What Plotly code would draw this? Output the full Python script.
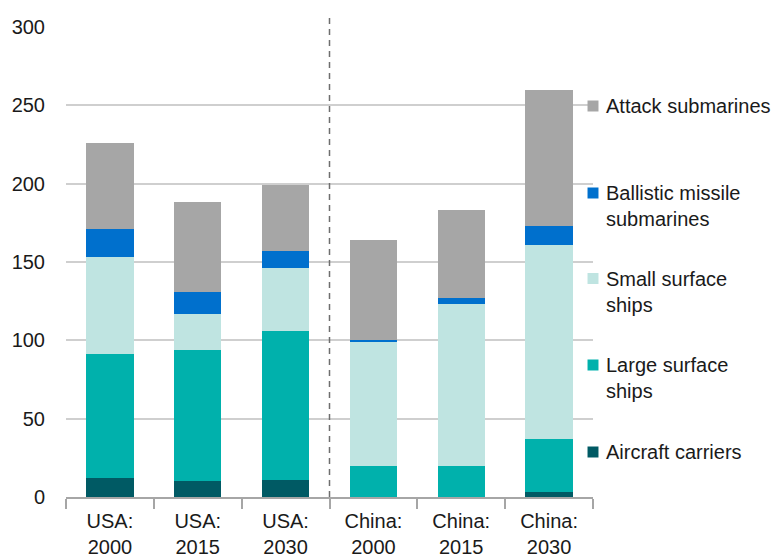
import plotly.graph_objects as go

# ------------------------------------------------------------------
# Data
# ------------------------------------------------------------------
CATEGORIES = ["USA:<br>2000", "USA:<br>2015", "USA:<br>2030",
              "China:<br>2000", "China:<br>2015", "China:<br>2030"]

AIRCRAFT_CARRIERS = [12, 10, 11, 0, 0, 3]
LARGE_SURFACE = [79, 84, 95, 20, 20, 34]
SMALL_SURFACE = [62, 23, 40, 79, 103, 124]
BALLISTIC_SUBS = [18, 14, 11, 1, 4, 12]
ATTACK_SUBS = [55, 57, 42, 64, 56, 87]

Y_TICKS = [0, 50, 100, 150, 200, 250, 300]

# ------------------------------------------------------------------
# Styling
# ------------------------------------------------------------------
FONT = "Liberation Sans, Arial, sans-serif"
TEXT_COLOR = "#1a1a1a"
GRID_COLOR = "#cfcfcf"

SERIES = [
    ("Aircraft carriers", AIRCRAFT_CARRIERS, "#005a64"),
    ("Large surface<br>ships", LARGE_SURFACE, "#00b1ac"),
    ("Small surface<br>ships", SMALL_SURFACE, "#bfe4e1"),
    ("Ballistic missile<br>submarines", BALLISTIC_SUBS, "#0070cd"),
    ("Attack submarines", ATTACK_SUBS, "#a6a6a6"),
]

# legend rows (pixel centre of the square, from the top of the page)
LEGEND_ROWS = [452, 365, 278.5, 193, 106]
PLOT_TOP, PLOT_BOTTOM = 27, 497


def py(pix):
    return (PLOT_BOTTOM - pix) / (PLOT_BOTTOM - PLOT_TOP)


fig = go.Figure()
for name, vals, color in SERIES:
    fig.add_trace(go.Bar(
        x=CATEGORIES, y=vals, name=name,
        marker=dict(color=color, line=dict(width=0)),
        showlegend=False,
    ))

# hand-built legend on the right
for (name, _, color), pix in zip(SERIES, LEGEND_ROWS):
    yc = py(pix)
    fig.add_shape(type="rect", xref="paper", yref="paper",
                  x0=0.9896, x1=1.0104, y0=yc - 0.0117, y1=yc + 0.0117,
                  fillcolor=color, line=dict(width=0))
    fig.add_annotation(xref="paper", yref="paper", x=1.021, y=yc + 0.027,
                       text=name, showarrow=False, align="left",
                       xanchor="left", yanchor="top",
                       font=dict(family=FONT, size=20, color=TEXT_COLOR))

# dashed separator between USA and China
fig.add_shape(type="line", xref="x", yref="paper", x0=2.5, x1=2.5,
              y0=0, y1=1.03, line=dict(color="#6e6e6e", width=1.5, dash="6px,5px"))

fig.update_layout(
    barmode="stack",
    bargap=0.46,
    width=782, height=559,
    margin=dict(l=66, r=189, t=PLOT_TOP, b=559 - PLOT_BOTTOM),
    plot_bgcolor="white", paper_bgcolor="white",
    font=dict(family=FONT, size=20, color=TEXT_COLOR),
)
fig.update_xaxes(
    showline=True, linecolor="#a6a6a6", linewidth=1.5,
    ticks="outside", tickson="boundaries", ticklen=10, tickcolor="#a6a6a6",
    tickwidth=1.5, showgrid=False, ticklabelstandoff=5, automargin=False,
    tickfont=dict(size=20, color=TEXT_COLOR),
)
fig.update_yaxes(
    range=[0, 300], tickvals=Y_TICKS, showgrid=True,
    gridcolor=GRID_COLOR, gridwidth=1.5, zeroline=False,
    ticks="", ticklabelstandoff=20, automargin=False,
    tickfont=dict(size=20, color=TEXT_COLOR),
)

# drop the browser's default body margin so the figure sits at (0, 0)
fig.write_html("out.html", config={"displayModeBar": False},
               post_script="document.body.style.margin='0';")
